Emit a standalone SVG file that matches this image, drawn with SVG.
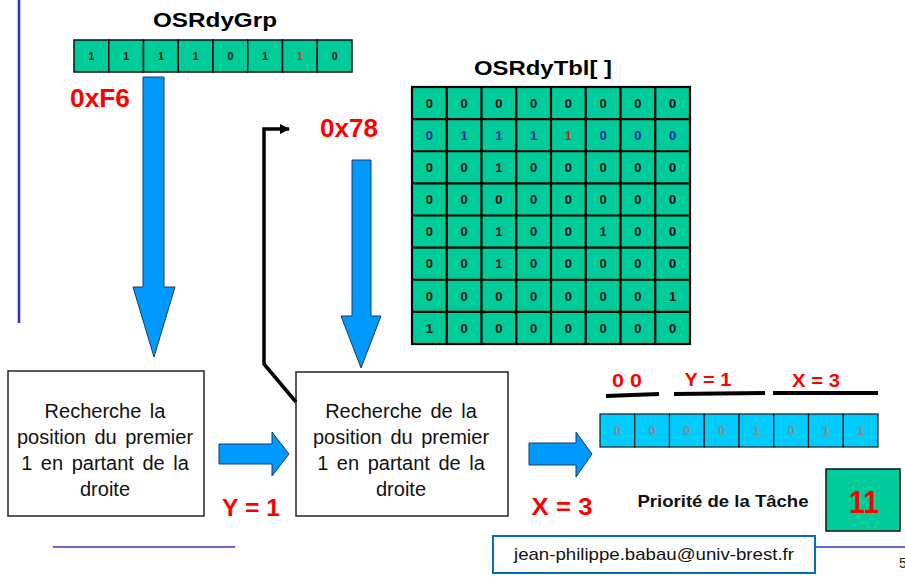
<svg xmlns="http://www.w3.org/2000/svg" width="905" height="578" viewBox="0 0 905 578">
  <style>
    text { font-family: "Liberation Sans", Arial, sans-serif; }
    .title { font-size: 21px; font-weight: bold; fill: #000; text-anchor: middle; }
    .hex { font-size: 25px; font-weight: bold; fill: #ff0000; text-anchor: middle; }
    .val { font-size: 23px; font-weight: bold; fill: #ff0000; text-anchor: middle; }
    .part { font-size: 19px; font-weight: bold; fill: #ff0000; text-anchor: middle; }
    .cell { fill: #00cc99; stroke: #111; stroke-width: 1.5; }
    .grid { stroke: #000; stroke-width: 2.2; fill: none; }
    .bit { font-size: 10.5px; font-weight: bold; fill: #111; text-anchor: middle; }
    .tbit { font-size: 13px; font-weight: bold; fill: #111; text-anchor: middle; }
    .rowbit { fill: #0a2a9a; }
    .hot { fill: #e01818; }
    .prio { fill: #00ccff; stroke: #1a1a1a; stroke-width: 1.2; }
    .pbit { font-size: 13px; font-weight: bold; fill: #8a8a8a; text-anchor: middle; }
    .box { fill: #fff; stroke: #222; stroke-width: 1.5; }
    .boxtxt { font-size: 20px; fill: #111; text-anchor: middle; word-spacing: 3px; }
    .flow { fill: #0099ff; stroke: #1b3a5a; stroke-width: 1; }
    .bar { stroke: #000; stroke-width: 4; }
    .rule { stroke: #3333cc; stroke-width: 1.5; }
    .rule-v { stroke: #2f2fc8; stroke-width: 2.5; }
  </style>
  <defs>
    <marker id="tip" viewBox="0 0 10 10" refX="9" refY="5" markerWidth="3" markerHeight="3" orient="auto" markerUnits="strokeWidth">
      <path d="M0,0 L10,5 L0,10 Z" fill="#000"/>
    </marker>
  </defs>

  <rect width="905" height="578" fill="#fff"/>

  <!-- page rules -->
  <line class="rule-v" x1="19" y1="0" x2="19" y2="323"/>
  <line class="rule" x1="53" y1="547" x2="235" y2="547"/>
  <line class="rule" x1="815" y1="547" x2="905" y2="547"/>

  <!-- ready group register -->
  <g id="osrdygrp">
    <text class="title" x="215" y="27" textLength="124" lengthAdjust="spacingAndGlyphs">OSRdyGrp</text>
    <rect class="cell" x="74" y="40" width="34.75" height="32"/>
    <rect class="cell" x="108.75" y="40" width="34.75" height="32"/>
    <rect class="cell" x="143.5" y="40" width="34.75" height="32"/>
    <rect class="cell" x="178.25" y="40" width="34.75" height="32"/>
    <rect class="cell" x="213" y="40" width="34.75" height="32"/>
    <rect class="cell" x="247.75" y="40" width="34.75" height="32"/>
    <rect class="cell" x="282.5" y="40" width="34.75" height="32"/>
    <rect class="cell" x="317.25" y="40" width="34.75" height="32"/>
    <text class="bit" x="91.4" y="59.5">1</text>
    <text class="bit" x="126.1" y="59.5">1</text>
    <text class="bit" x="160.9" y="59.5">1</text>
    <text class="bit" x="195.6" y="59.5">1</text>
    <text class="bit" x="230.4" y="59.5">0</text>
    <text class="bit" x="265.1" y="59.5">1</text>
    <text class="bit" x="299.9" y="59.5" style="fill:#cc3333">1</text>
    <text class="bit" x="334.6" y="59.5">0</text>
    <text class="hex" x="100" y="107" textLength="60" lengthAdjust="spacingAndGlyphs">0xF6</text>
  </g>

  <!-- ready table -->
  <g id="osrdytbl">
    <text class="title" x="543" y="75" textLength="138" lengthAdjust="spacingAndGlyphs">OSRdyTbl[ ]</text>
    <rect x="412" y="87" width="278" height="257" fill="#00cc99"/>
    <g class="grid">
      <rect x="412" y="87" width="278" height="257"/>
      <path d="M446.75,87V344 M481.5,87V344 M516.25,87V344 M551,87V344 M585.75,87V344 M620.5,87V344 M655.25,87V344"/>
      <path d="M412,119.1H690 M412,151.25H690 M412,183.4H690 M412,215.5H690 M412,247.6H690 M412,279.75H690 M412,311.9H690"/>
    </g>
    <g class="tbit">
      <text x="429.4" y="107.8">0</text><text x="464.1" y="107.8">0</text><text x="498.9" y="107.8">0</text><text x="533.6" y="107.8">0</text><text x="568.4" y="107.8">0</text><text x="603.1" y="107.8">0</text><text x="637.9" y="107.8">0</text><text x="672.6" y="107.8">0</text>

      <text class="rowbit" x="429.4" y="139.9">0</text><text class="rowbit" x="464.1" y="139.9">1</text><text class="rowbit" x="498.9" y="139.9">1</text><text class="rowbit" x="533.6" y="139.9">1</text><text class="hot" x="568.4" y="139.9">1</text><text class="rowbit" x="603.1" y="139.9">0</text><text class="rowbit" x="637.9" y="139.9">0</text><text class="rowbit" x="672.6" y="139.9">0</text>

      <text x="429.4" y="172">0</text><text x="464.1" y="172">0</text><text x="498.9" y="172">1</text><text x="533.6" y="172">0</text><text x="568.4" y="172">0</text><text x="603.1" y="172">0</text><text x="637.9" y="172">0</text><text x="672.6" y="172">0</text>

      <text x="429.4" y="204.1">0</text><text x="464.1" y="204.1">0</text><text x="498.9" y="204.1">0</text><text x="533.6" y="204.1">0</text><text x="568.4" y="204.1">0</text><text x="603.1" y="204.1">0</text><text x="637.9" y="204.1">0</text><text x="672.6" y="204.1">0</text>

      <text x="429.4" y="236.3">0</text><text x="464.1" y="236.3">0</text><text x="498.9" y="236.3">1</text><text x="533.6" y="236.3">0</text><text x="568.4" y="236.3">0</text><text x="603.1" y="236.3">1</text><text x="637.9" y="236.3">0</text><text x="672.6" y="236.3">0</text>

      <text x="429.4" y="268.4">0</text><text x="464.1" y="268.4">0</text><text x="498.9" y="268.4">1</text><text x="533.6" y="268.4">0</text><text x="568.4" y="268.4">0</text><text x="603.1" y="268.4">0</text><text x="637.9" y="268.4">0</text><text x="672.6" y="268.4">0</text>

      <text x="429.4" y="300.5">0</text><text x="464.1" y="300.5">0</text><text x="498.9" y="300.5">0</text><text x="533.6" y="300.5">0</text><text x="568.4" y="300.5">0</text><text x="603.1" y="300.5">0</text><text x="637.9" y="300.5">0</text><text x="672.6" y="300.5">1</text>

      <text x="429.4" y="332.6">1</text><text x="464.1" y="332.6">0</text><text x="498.9" y="332.6">0</text><text x="533.6" y="332.6">0</text><text x="568.4" y="332.6">0</text><text x="603.1" y="332.6">0</text><text x="637.9" y="332.6">0</text><text x="672.6" y="332.6">0</text>
    </g>
  </g>

  <!-- search boxes -->
  <g id="search-grp">
    <rect class="box" x="8" y="371" width="196" height="145"/>
    <text class="boxtxt" x="105" y="418">Recherche la</text>
    <text class="boxtxt" x="105" y="444">position du premier</text>
    <text class="boxtxt" x="105" y="470">1 en partant de la</text>
    <text class="boxtxt" x="105" y="496">droite</text>
  </g>

  <g id="search-tbl">
    <rect class="box" x="296" y="372" width="212" height="144"/>
    <text class="boxtxt" x="401" y="418">Recherche de la</text>
    <text class="boxtxt" x="401" y="444">position du premier</text>
    <text class="boxtxt" x="401" y="470">1 en partant de la</text>
    <text class="boxtxt" x="401" y="496">droite</text>
  </g>

  <!-- result labels -->
  <g id="labels">
    <text class="hex" x="349" y="137" textLength="58" lengthAdjust="spacingAndGlyphs">0x78</text>
    <text class="val" x="251" y="516" textLength="58" lengthAdjust="spacingAndGlyphs">Y = 1</text>
    <text class="val" x="562" y="515" textLength="61" lengthAdjust="spacingAndGlyphs">X = 3</text>
  </g>

  <!-- priority register -->
  <g id="priority">
    <text class="part" x="627" y="387" textLength="30" lengthAdjust="spacingAndGlyphs">0 0</text>
    <text class="part" x="708" y="386" textLength="47" lengthAdjust="spacingAndGlyphs">Y = 1</text>
    <text class="part" x="816" y="387" textLength="48" lengthAdjust="spacingAndGlyphs">X = 3</text>
    <line class="bar" x1="606" y1="396" x2="659" y2="394"/>
    <line class="bar" x1="674" y1="394" x2="765" y2="393"/>
    <line class="bar" x1="773" y1="393" x2="878" y2="393"/>
    <rect class="prio" x="600" y="414" width="34.75" height="33"/>
    <rect class="prio" x="634.75" y="414" width="34.75" height="33"/>
    <rect class="prio" x="669.5" y="414" width="34.75" height="33"/>
    <rect class="prio" x="704.25" y="414" width="34.75" height="33"/>
    <rect class="prio" x="739" y="414" width="34.75" height="33"/>
    <rect class="prio" x="773.75" y="414" width="34.75" height="33"/>
    <rect class="prio" x="808.5" y="414" width="34.75" height="33"/>
    <rect class="prio" x="843.25" y="414" width="34.75" height="33"/>
    <text class="pbit" x="617.4" y="435">0</text>
    <text class="pbit" x="652.1" y="435">0</text>
    <text class="pbit" x="686.9" y="435">0</text>
    <text class="pbit" x="721.6" y="435">0</text>
    <text class="pbit" x="756.4" y="435">1</text>
    <text class="pbit" x="791.1" y="435">0</text>
    <text class="pbit" x="825.9" y="435">1</text>
    <text class="pbit" x="860.6" y="435">1</text>
  </g>

  <g id="task-priority">
    <text x="723" y="507" font-size="17" font-weight="bold" fill="#111" text-anchor="middle" textLength="171" lengthAdjust="spacingAndGlyphs">Priorité de la Tâche</text>
    <rect class="cell" x="826" y="469" width="74" height="62"/>
    <text x="864" y="513" font-size="31" font-weight="bold" fill="#ff0000" text-anchor="middle" textLength="30" lengthAdjust="spacingAndGlyphs">11</text>
  </g>

  <!-- connectors -->
  <g id="connectors">
    <polygon class="flow" points="143,77 164,77 164,287 175,287 154,357 133,287 143,287"/>
    <polygon class="flow" points="352,160 371,160 371,316 381,316 361,368 341,316 352,316"/>
    <polygon class="flow" points="219,444 272,444 272,432 289,454 272,476 272,464 219,464"/>
    <polygon class="flow" points="529,443 576,443 576,432 592,454 576,477 576,465 529,465"/>
    <polyline points="296,402 264,364 264,129 289,129" fill="none" stroke="#000" stroke-width="3.5" marker-end="url(#tip)"/>
  </g>

  <!-- footer -->
  <g id="footer">
    <rect x="493" y="536" width="322" height="37" fill="#fff" stroke="#0070c0" stroke-width="2"/>
    <text x="654" y="560" font-size="17" fill="#111" text-anchor="middle" textLength="280" lengthAdjust="spacingAndGlyphs">jean-philippe.babau@univ-brest.fr</text>
    <text x="899" y="568" font-size="14" fill="#222">5</text>
  </g>
</svg>
